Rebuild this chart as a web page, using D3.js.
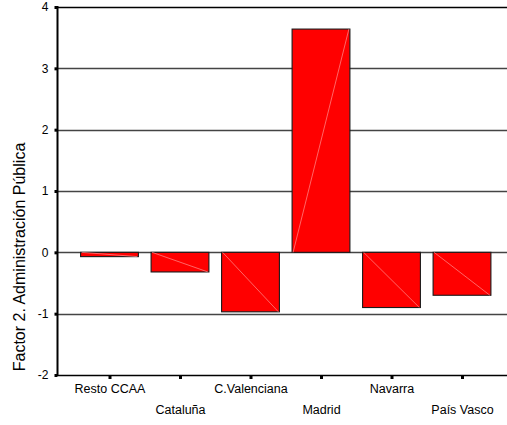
<!DOCTYPE html>
<html><head><meta charset="utf-8">
<script src="https://cdn.jsdelivr.net/npm/d3@7"></script>
<style>html,body{margin:0;padding:0;background:#fff;} svg{display:block;font-family:Arial,"Liberation Sans",sans-serif;}</style>
</head><body>
<svg id="c" width="507" height="425"></svg>
<script>
const categories = ["Resto CCAA","Cataluña","C.Valenciana","Madrid","Navarra","País Vasco"];
const values = [-0.07,-0.32,-0.97,3.64,-0.90,-0.70];
const yTicks = [4,3,2,1,0,-1,-2];
const yTitle = "Factor 2. Administración Pública";

const svg = d3.select("#c");
const x = d3.scalePoint().domain(categories).range([109.5, 462]);
const barW = x.step() * 0.82;
const y = d3.scaleLinear().domain([-2,4]).range([375, 7]);
const axisX = 57.5, rightX = 507;

// grid lines
svg.append("g").selectAll("line").data(yTicks).join("line")
  .attr("x1", axisX).attr("x2", rightX)
  .attr("y1", d => Math.round(y(d)) + 0.5).attr("y2", d => Math.round(y(d)) + 0.5)
  .attr("stroke", d => (d === 4 || d === -2) ? "#000" : "#444")
  .attr("stroke-width", d => (d === 4 || d === -2) ? 1.6 : 1.3);

// bars
const bars = svg.append("g").selectAll("g").data(categories).join("g");
bars.append("rect")
  .attr("x", d => x(d) - barW/2)
  .attr("width", barW)
  .attr("y", (d,i) => y(Math.max(0, values[i])))
  .attr("height", (d,i) => Math.abs(y(values[i]) - y(0)))
  .attr("fill", "#ff0000").attr("stroke", "#1a1a1a").attr("stroke-width", 1.1);
bars.append("line")
  .attr("x1", d => x(d) - barW/2 + 1).attr("y1", y(0))
  .attr("x2", d => x(d) + barW/2 - 1).attr("y2", (d,i) => y(values[i]))
  .attr("stroke", "#ff9090").attr("stroke-width", 0.7);

// y axis
const yAxis = d3.axisLeft(y).tickValues(yTicks).tickSize(0).tickPadding(9).tickFormat(d => String(d));
const gy = svg.append("g").attr("transform", `translate(${axisX},0)`).call(yAxis);
gy.select(".domain").attr("stroke", "#000").attr("stroke-width", 2).attr("d", `M0,${y(4)-1}V${y(-2)+1}`);
gy.selectAll("text").attr("font-size", 12).attr("fill", "#000").attr("font-family", "Arial, 'Liberation Sans', sans-serif");
gy.selectAll(".tick").append("rect").attr("x", -3).attr("y", -1.5).attr("width", 3).attr("height", 3).attr("fill", "#000");

// x axis
const xAxis = d3.axisBottom(x).tickSize(0).tickPadding(0).tickFormat(() => "");
const gx = svg.append("g").attr("transform", `translate(0,${y(-2)})`).call(xAxis);
gx.select(".domain").remove();
gx.selectAll(".tick").append("rect").attr("x", -1.5).attr("y", 1).attr("width", 3).attr("height", 3).attr("fill", "#000");
gx.selectAll(".tick").append("text")
  .attr("y", (d,i) => i % 2 === 0 ? 18 : 39)
  .attr("text-anchor", "middle").attr("font-size", 12.5).attr("fill", "#000")
  .text(d => d);

// y title
svg.append("text")
  .attr("transform", "translate(25,257) rotate(-90)")
  .attr("text-anchor", "middle").attr("font-size", 16).attr("fill", "#000")
  .text(yTitle);
</script>
</body></html>
